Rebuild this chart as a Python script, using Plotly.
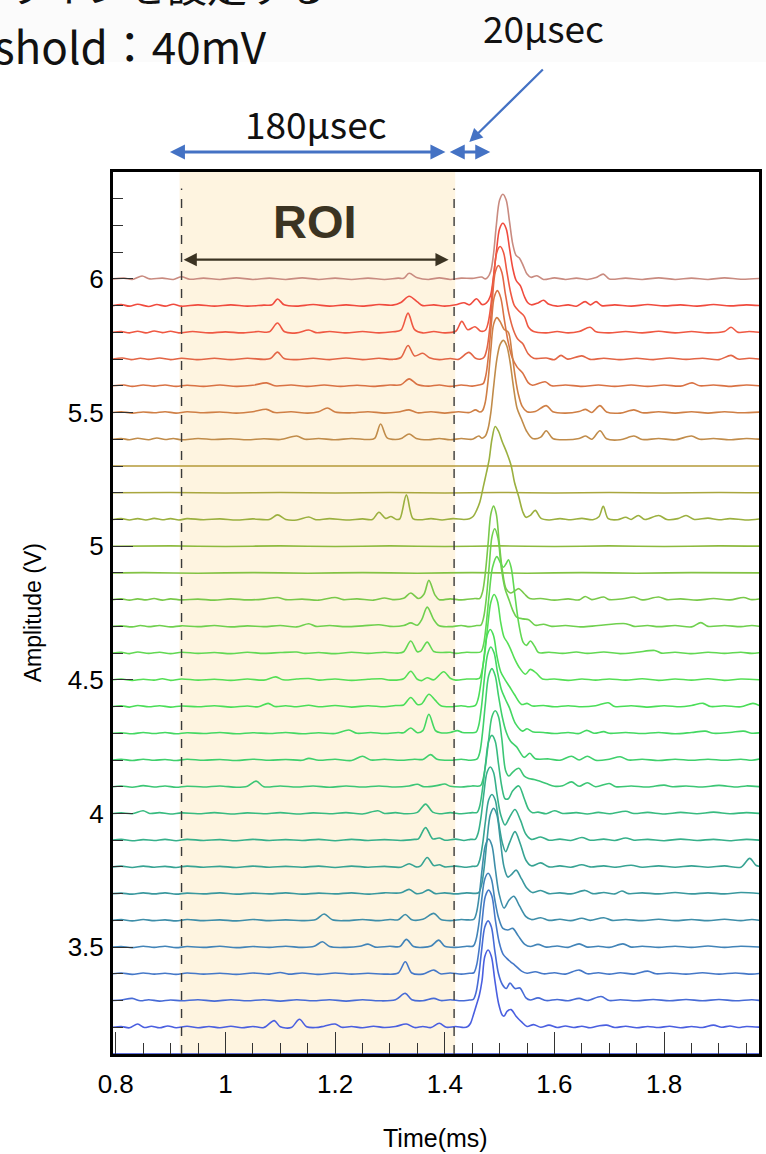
import plotly.graph_objects as go

# ---------------- data (time in ms, deviation in mV from each trace's baseline) ----------------
BASELINES_V = [6.0, 5.9, 5.8, 5.7, 5.6, 5.5, 5.4, 5.3, 5.2, 5.1, 5.0, 4.9, 4.8, 4.7, 4.6,
               4.5, 4.4, 4.3, 4.2, 4.1, 4.0, 3.9, 3.8, 3.7, 3.6, 3.5, 3.4, 3.3, 3.2, 3.1]

COLORS = ["#c98b80", "#f04b3e", "#ef5842", "#e36545", "#d97244", "#cf7f45", "#c18c4a",
          "#b49a38", "#a9a63e", "#9bb03f", "#8dba3e", "#83c244", "#79c94a", "#6fd04e",
          "#62d853", "#55df55", "#4ade58", "#44d862", "#3fd06c", "#3cc675", "#38bb80",
          "#36b08a", "#37a393", "#3a989e", "#3e8ea9", "#4284b8", "#4578c8", "#476bd6",
          "#4a5fe0", "#3044d0"]

W600 = [(0.795,0),(0.815,3),(0.83,-2),(0.848,11),(0.862,0),(0.885,3),(0.905,-2),(0.92,8),(0.935,-1),(0.96,3),(0.99,-2),(1.02,4),(1.05,-2),(1.08,3),(1.11,-2),(1.14,4),(1.17,-2),(1.20,3),(1.23,-2),(1.26,3),(1.29,-2),(1.315,3),(1.325,2),(1.335,21),(1.35,4),(1.37,-2),(1.39,4),(1.41,-2),(1.43,3),(1.45,2),(1.467,7),(1.474,0),
        (1.478,5),(1.484,30),(1.489,95),(1.494,200),(1.50,295),(1.506,317),(1.512,295),(1.518,215),(1.524,130),(1.53,88),(1.536,78),(1.543,50),(1.55,18),(1.557,6),
        (1.568,12),(1.58,-2),(1.60,4),(1.62,-2),(1.64,3),(1.66,-2),(1.676,5),(1.689,18),(1.70,0),(1.73,3),(1.76,-2),(1.79,4),(1.82,-2),(1.85,3),(1.88,-2),(1.91,4),(1.94,-1),(1.975,2)]
W590 = [(0.795,0),(0.81,4),(0.825,-2),(0.84,5),(0.86,-3),(0.875,4),(0.89,-2),(0.905,5),(0.92,-2),(0.95,3),(0.98,-2),(1.01,3),(1.04,-2),(1.07,2),(1.085,3),(1.095,25),(1.107,3),(1.13,-2),(1.16,4),(1.19,-2),(1.22,3),(1.25,-2),(1.28,4),(1.305,2),(1.32,12),(1.335,35),(1.35,14),(1.36,0),(1.38,3),(1.40,-2),(1.42,3),(1.435,11),(1.445,3),(1.458,26),(1.468,4),
        (1.476,10),(1.483,35),(1.488,95),(1.494,200),(1.50,288),(1.506,308),(1.512,288),(1.518,215),(1.524,140),(1.53,95),(1.538,74),(1.545,35),(1.551,12),(1.558,3),
        (1.57,10),(1.58,20),(1.59,5),(1.605,-2),(1.625,3),(1.64,-2),(1.656,15),(1.666,3),(1.676,15),(1.686,0),(1.71,3),(1.74,-2),(1.77,4),(1.80,-1),(1.83,3),(1.86,-2),(1.89,4),(1.92,-1),(1.95,3),(1.975,0)]
W580 = [(0.795,0),(0.81,3),(0.825,-2),(0.84,4),(0.855,-2),(0.87,5),(0.885,-1),(0.90,4),(0.915,-2),(0.94,3),(0.97,-2),(1.00,2),(1.03,-2),(1.06,3),(1.08,2),(1.095,35),(1.108,2),(1.13,-2),(1.152,9),(1.165,-1),(1.19,3),(1.22,-2),(1.25,3),(1.28,-2),(1.305,2),(1.32,8),(1.333,72),(1.345,10),(1.36,-2),(1.38,3),(1.40,-2),(1.42,4),(1.431,41),(1.442,10),(1.455,21),(1.466,4),
        (1.474,8),(1.479,35),(1.484,100),(1.489,205),(1.495,300),(1.501,321),(1.507,300),(1.513,230),(1.52,150),(1.527,100),(1.535,80),(1.545,60),(1.553,18),(1.562,3),
        (1.585,-2),(1.605,3),(1.625,-2),(1.645,3),(1.665,19),(1.676,2),(1.70,-2),(1.73,3),(1.76,-2),(1.79,4),(1.82,-2),(1.85,3),(1.88,-2),(1.91,3),(1.922,19),(1.935,0),(1.955,3),(1.975,0)]
W570 = [(0.795,0),(0.812,4),(0.828,-2),(0.845,3),(0.86,-1),(0.88,4),(0.90,-2),(0.92,3),(0.95,-2),(0.98,3),(1.01,-2),(1.04,3),(1.07,-1),(1.082,2),(1.095,26),(1.107,2),(1.13,-2),(1.16,3),(1.19,-2),(1.22,4),(1.25,-2),(1.28,3),(1.305,-1),(1.32,6),(1.333,51),(1.345,12),(1.36,22),(1.372,5),(1.39,-2),(1.41,2),(1.425,-1),(1.444,25),(1.456,3),(1.466,0),
        (1.472,8),(1.477,40),(1.482,115),(1.487,230),(1.492,325),(1.498,350),(1.504,325),(1.51,250),(1.517,170),(1.525,110),(1.533,75),(1.542,58),(1.552,20),(1.562,3),
        (1.585,4),(1.60,-2),(1.612,14),(1.624,0),(1.65,12),(1.665,-1),(1.69,3),(1.72,-2),(1.75,3),(1.78,-2),(1.81,4),(1.84,-1),(1.87,3),(1.90,-2),(1.922,14),(1.935,0),(1.955,3),(1.975,0)]
W560 = [(0.795,0),(0.815,3),(0.83,-2),(0.85,3),(0.87,-1),(0.89,3),(0.91,-2),(0.93,2),(0.96,-2),(0.99,3),(1.02,-2),(1.05,2),(1.075,11),(1.09,0),(1.12,3),(1.15,-2),(1.18,3),(1.21,-2),(1.24,2),(1.27,-2),(1.30,3),(1.32,4),(1.335,26),(1.35,5),(1.37,-1),(1.39,3),(1.41,-2),(1.43,3),(1.45,-1),(1.462,3),
        (1.47,8),(1.475,40),(1.48,120),(1.485,235),(1.49,330),(1.496,356),(1.502,330),(1.508,255),(1.515,170),(1.523,105),(1.532,70),(1.542,48),(1.552,12),(1.56,2),
        (1.583,15),(1.595,0),(1.62,3),(1.65,-2),(1.68,3),(1.71,-2),(1.74,3),(1.77,-2),(1.80,3),(1.83,-1),(1.851,11),(1.865,0),(1.89,3),(1.92,-2),(1.95,3),(1.975,0)]
W550 = [(0.795,0),(0.81,3),(0.83,-2),(0.85,2),(0.87,-1),(0.89,3),(0.91,-2),(0.93,3),(0.96,-1),(0.99,2),(1.02,-2),(1.05,3),(1.075,12),(1.09,0),(1.12,3),(1.15,-2),(1.17,3),(1.186,17),(1.20,2),(1.23,-1),(1.26,3),(1.29,-2),(1.315,2),(1.335,10),(1.35,-1),(1.375,3),(1.40,-2),(1.425,3),(1.445,0),(1.456,10),(1.464,2),
        (1.469,8),(1.474,40),(1.479,120),(1.484,235),(1.489,330),(1.495,355),(1.501,340),(1.508,312),(1.516,300),(1.522,230),(1.528,140),(1.534,70),(1.541,24),(1.55,3),
        (1.565,4),(1.585,26),(1.597,3),(1.62,-2),(1.645,4),(1.657,12),(1.668,0),(1.683,26),(1.695,2),(1.72,-2),(1.745,10),(1.76,-1),(1.79,3),(1.82,-2),(1.85,3),(1.88,-2),(1.91,3),(1.94,-1),(1.975,2)]
W540 = [(0.795,0),(0.81,3),(0.825,-2),(0.84,4),(0.86,-2),(0.875,5),(0.89,-1),(0.905,3),(0.92,-2),(0.95,3),(0.98,-1),(1.01,2),(1.04,-2),(1.07,2),(1.10,-1),(1.13,12),(1.145,0),(1.17,3),(1.20,-2),(1.23,3),(1.26,-1),(1.272,3),(1.283,57),(1.295,5),(1.31,-1),(1.322,4),(1.335,20),(1.348,3),(1.37,-2),(1.39,3),(1.41,-2),(1.43,3),(1.45,0),(1.462,12),(1.468,4),
        (1.474,12),(1.479,40),(1.484,100),(1.489,195),(1.495,300),(1.501,355),(1.507,370),(1.513,350),(1.519,290),(1.525,200),(1.532,115),(1.54,75),(1.549,31),(1.56,3),
        (1.575,8),(1.585,32),(1.597,3),(1.62,-2),(1.645,3),(1.657,12),(1.668,0),(1.683,32),(1.695,2),(1.72,-2),(1.745,12),(1.76,-1),(1.79,3),(1.82,-2),(1.85,12),(1.865,0),(1.89,3),(1.92,-2),(1.95,3),(1.975,0)]
W530 = [(0.795,0),(1.975,0)]
W520 = [(0.795,0),(0.90,1),(1.00,-1),(1.10,1),(1.20,-1),(1.30,1),(1.40,-1),(1.50,1),(1.60,-1),(1.70,1),(1.80,-1),(1.90,1),(1.975,0)]
W510 = [(0.795,0),(0.81,3),(0.825,-2),(0.84,3),(0.855,-2),(0.87,4),(0.885,-1),(0.90,3),(0.915,-2),(0.93,3),(0.96,-1),(0.99,2),(1.02,-2),(1.05,2),(1.08,0),(1.095,17),(1.11,0),(1.13,-2),(1.152,9),(1.165,-1),(1.19,3),(1.22,-2),(1.25,2),(1.268,0),(1.28,27),(1.292,4),(1.302,11),(1.312,0),(1.318,2),(1.33,92),(1.342,3),(1.355,-1),(1.375,3),(1.395,-2),(1.415,3),(1.435,0),
        (1.445,3),(1.452,12),(1.458,34),(1.464,65),(1.47,120),(1.476,175),(1.481,225),(1.486,300),(1.492,348),(1.498,330),(1.505,290),(1.513,250),(1.521,202),(1.527,140),(1.535,84),(1.542,30),(1.548,8),
        (1.556,15),(1.565,34),(1.575,5),(1.59,-2),(1.61,3),(1.63,-1),(1.65,4),(1.67,-1),(1.681,10),(1.689,49),(1.698,3),(1.715,-1),(1.73,8),(1.74,0),(1.753,15),(1.765,0),(1.79,15),(1.805,0),(1.825,3),(1.84,15),(1.855,0),(1.88,5),(1.90,-1),(1.92,3),(1.95,-2),(1.975,2)]
W500 = [(0.795,0),(0.90,1),(1.00,-1),(1.10,1),(1.20,-1),(1.30,1),(1.40,-1),(1.50,1),(1.60,-1),(1.70,1),(1.80,-1),(1.90,1),(1.975,0)]
W490 = [(0.795,0),(0.85,1),(0.95,-1),(1.05,1),(1.15,-1),(1.25,1),(1.35,-1),(1.45,1),(1.55,-1),(1.65,1),(1.75,-1),(1.85,1),(1.975,0)]
W480 = [(0.795,0),(0.81,3),(0.825,-2),(0.84,3),(0.855,-1),(0.87,4),(0.885,-2),(0.90,3),(0.92,-1),(0.95,2),(0.98,-2),(1.01,3),(1.04,-1),(1.07,2),(1.095,8),(1.11,0),(1.14,2),(1.17,-2),(1.20,8),(1.215,0),(1.24,3),(1.27,-2),(1.29,6),(1.305,0),(1.325,5),(1.338,25),(1.352,4),(1.362,20),(1.371,72),(1.382,18),(1.39,0),(1.41,3),(1.43,-1),(1.455,4),
        (1.464,5),(1.469,30),(1.474,100),(1.479,210),(1.484,320),(1.489,350),(1.494,320),(1.499,220),(1.505,110),(1.512,40),(1.52,25),(1.527,32),(1.535,41),(1.545,22),(1.555,4),
        (1.575,4),(1.60,-2),(1.625,3),(1.645,-1),(1.656,12),(1.668,0),(1.69,10),(1.70,0),(1.725,3),(1.745,10),(1.76,-1),(1.79,10),(1.805,0),(1.83,3),(1.86,-2),(1.89,4),(1.92,-1),(1.945,8),(1.96,0),(1.975,3)]
W470 = [(0.795,0),(0.81,2),(0.83,-2),(0.845,3),(0.86,-1),(0.88,3),(0.90,-2),(0.92,2),(0.95,-1),(0.98,3),(1.01,-2),(1.04,2),(1.07,-1),(1.10,3),(1.13,-2),(1.152,10),(1.165,0),(1.19,3),(1.22,-1),(1.25,2),(1.28,6),(1.30,0),(1.325,3),(1.338,13),(1.35,4),(1.358,25),(1.368,72),(1.38,25),(1.39,2),(1.41,-1),(1.43,3),(1.445,-1),(1.458,3),
        (1.466,5),(1.471,35),(1.476,110),(1.481,225),(1.486,335),(1.491,365),(1.497,330),(1.503,220),(1.51,140),(1.517,100),(1.524,60),(1.531,35),(1.543,28),(1.553,25),(1.565,4),
        (1.58,8),(1.595,0),(1.62,3),(1.65,-2),(1.68,3),(1.73,10),(1.745,0),(1.77,3),(1.79,-1),(1.82,3),(1.85,-2),(1.867,14),(1.88,0),(1.91,3),(1.94,-1),(1.96,3),(1.975,0)]
W460 = [(0.795,0),(0.81,3),(0.825,-2),(0.84,4),(0.86,-1),(0.88,3),(0.90,-2),(0.92,3),(0.95,-1),(0.98,2),(1.01,-2),(1.04,3),(1.07,-1),(1.10,2),(1.13,4),(1.145,-1),(1.17,2),(1.20,-2),(1.23,3),(1.26,-1),(1.29,3),(1.315,0),(1.325,5),(1.338,45),(1.35,5),(1.356,8),(1.368,41),(1.38,6),(1.395,2),(1.41,3),(1.42,-1),(1.44,3),(1.455,2),
        (1.466,5),(1.471,35),(1.476,115),(1.481,220),(1.487,320),(1.495,361),(1.501,340),(1.507,321),(1.512,335),(1.516,349),(1.521,320),(1.527,230),(1.535,109),(1.543,40),(1.549,29),(1.556,45),(1.564,25),(1.571,2),
        (1.59,3),(1.615,-1),(1.64,4),(1.66,-1),(1.69,4),(1.72,-2),(1.75,3),(1.783,10),(1.795,0),(1.82,3),(1.85,-2),(1.88,3),(1.91,-1),(1.94,3),(1.96,-1),(1.975,2)]
W450 = [(0.795,0),(0.81,3),(0.83,-2),(0.85,2),(0.87,-1),(0.885,4),(0.90,-2),(0.92,3),(0.95,-1),(0.98,2),(1.01,-2),(1.04,3),(1.07,-1),(1.092,11),(1.105,0),(1.13,3),(1.152,5),(1.17,-1),(1.20,3),(1.23,-2),(1.26,2),(1.285,4),(1.30,-1),(1.325,4),(1.338,32),(1.35,2),(1.358,-3),(1.368,8),(1.38,0),(1.398,30),(1.41,6),(1.42,-1),(1.44,3),(1.452,3),
        (1.463,5),(1.468,35),(1.473,100),(1.478,195),(1.484,290),(1.49,319),(1.496,295),(1.502,215),(1.508,160),(1.514,140),(1.52,115),(1.527,80),(1.535,49),(1.547,21),(1.556,39),(1.567,25),(1.578,3),
        (1.60,3),(1.625,-2),(1.65,3),(1.675,-1),(1.70,3),(1.73,-1),(1.76,4),(1.79,-2),(1.82,3),(1.85,-1),(1.88,4),(1.91,-2),(1.94,3),(1.975,0)]
W440 = [(0.795,0),(0.81,3),(0.825,-2),(0.84,4),(0.86,-1),(0.88,3),(0.90,-2),(0.92,2),(0.95,-1),(0.98,3),(1.01,-2),(1.04,2),(1.06,-1),(1.078,12),(1.09,0),(1.11,3),(1.13,-1),(1.152,5),(1.17,-1),(1.20,4),(1.23,-2),(1.26,3),(1.29,-1),(1.31,4),(1.325,6),(1.338,34),(1.35,8),(1.358,10),(1.371,46),(1.382,25),(1.393,3),(1.41,-1),(1.43,3),(1.445,-1),
        (1.456,4),(1.461,30),(1.466,90),(1.471,175),(1.477,265),(1.483,288),(1.489,265),(1.495,190),(1.502,130),(1.51,100),(1.518,75),(1.527,45),(1.54,8),(1.55,12),(1.56,2),
        (1.58,4),(1.60,-1),(1.625,3),(1.65,-1),(1.675,3),(1.698,14),(1.71,0),(1.74,3),(1.77,-2),(1.80,3),(1.83,-1),(1.85,4),(1.871,12),(1.885,0),(1.91,3),(1.94,-1),(1.962,12),(1.975,2)]
W430 = [(0.795,0),(0.81,2),(0.83,-2),(0.85,3),(0.87,-1),(0.89,3),(0.91,-2),(0.93,2),(0.96,-1),(0.99,3),(1.02,-2),(1.05,2),(1.08,-1),(1.11,3),(1.14,-2),(1.17,2),(1.20,-1),(1.225,12),(1.24,0),(1.265,3),(1.29,-1),(1.315,3),(1.325,2),(1.338,20),(1.35,2),(1.36,10),(1.371,71),(1.383,10),(1.392,2),(1.41,3),(1.423,10),(1.432,3),(1.447,2),
        (1.457,4),(1.462,30),(1.467,100),(1.472,200),(1.478,295),(1.484,323),(1.49,300),(1.496,230),(1.503,165),(1.51,130),(1.518,95),(1.529,36),(1.542,8),(1.55,17),(1.56,6),
        (1.58,3),(1.60,-1),(1.625,3),(1.645,-1),(1.659,11),(1.672,0),(1.69,6),(1.70,0),(1.73,3),(1.76,-1),(1.79,3),(1.82,-2),(1.85,3),(1.875,8),(1.89,0),(1.92,3),(1.945,8),(1.96,0),(1.975,2)]
W420 = [(0.795,0),(0.81,3),(0.83,-2),(0.85,3),(0.87,-1),(0.89,2),(0.91,-2),(0.93,3),(0.96,-1),(0.99,2),(1.02,-2),(1.05,3),(1.08,-1),(1.11,2),(1.14,-1),(1.152,6),(1.17,-1),(1.20,3),(1.23,-2),(1.25,14),(1.265,0),(1.29,3),(1.32,-1),(1.345,3),(1.36,2),(1.374,20),(1.386,3),(1.41,-1),(1.43,3),(1.447,-1),
        (1.459,4),(1.464,30),(1.469,105),(1.474,210),(1.48,315),(1.486,342),(1.492,315),(1.498,240),(1.505,160),(1.512,105),(1.52,70),(1.531,49),(1.545,10),(1.555,25),(1.565,5),
        (1.59,4),(1.61,-1),(1.631,14),(1.645,0),(1.66,14),(1.675,-1),(1.70,3),(1.72,12),(1.735,0),(1.76,3),(1.79,-2),(1.82,3),(1.85,-1),(1.88,3),(1.91,-1),(1.94,3),(1.96,-1),(1.975,4)]
W410 = [(0.795,0),(0.81,3),(0.83,-2),(0.85,4),(0.87,-1),(0.89,3),(0.91,-2),(0.93,2),(0.96,-1),(0.99,3),(1.02,-2),(1.04,2),(1.056,21),(1.07,0),(1.10,3),(1.13,-1),(1.16,3),(1.19,-2),(1.22,3),(1.25,-1),(1.28,3),(1.31,-1),(1.335,3),(1.35,9),(1.362,0),(1.385,4),(1.40,10),(1.41,2),(1.43,-1),(1.45,3),
        (1.465,4),(1.47,30),(1.475,90),(1.48,175),(1.486,262),(1.492,284),(1.498,262),(1.504,180),(1.511,60),(1.517,40),(1.524,55),(1.535,69),(1.545,40),(1.553,31),(1.563,27),(1.571,22),(1.585,12),(1.60,2),
        (1.615,4),(1.631,18),(1.645,2),(1.66,15),(1.675,0),(1.70,12),(1.712,0),(1.74,3),(1.77,-1),(1.80,6),(1.815,0),(1.84,3),(1.87,-1),(1.90,5),(1.93,-1),(1.95,3),(1.975,0)]
W400 = [(0.795,0),(0.81,2),(0.83,-1),(0.85,10),(0.862,0),(0.88,3),(0.90,-2),(0.92,2),(0.95,-1),(0.98,3),(1.01,-2),(1.04,2),(1.07,-1),(1.10,3),(1.13,-2),(1.16,2),(1.19,-1),(1.22,3),(1.25,-2),(1.278,10),(1.29,0),(1.31,3),(1.33,-1),(1.35,4),(1.365,35),(1.378,5),(1.39,-1),(1.41,3),(1.43,-1),(1.45,3),
        (1.459,4),(1.464,30),(1.469,95),(1.474,180),(1.48,270),(1.486,292),(1.492,270),(1.498,185),(1.504,100),(1.51,55),(1.516,55),(1.524,85),(1.535,103),(1.545,55),(1.553,15),(1.56,3),
        (1.57,5),(1.585,-1),(1.60,10),(1.615,0),(1.64,3),(1.66,-2),(1.68,4),(1.70,-1),(1.73,8),(1.745,0),(1.77,4),(1.80,-2),(1.83,4),(1.86,-1),(1.89,5),(1.92,-1),(1.95,3),(1.975,0)]
W390 = [(0.795,0),(0.81,3),(0.83,-2),(0.85,2),(0.87,-1),(0.89,3),(0.91,-2),(0.93,3),(0.96,-1),(0.99,2),(1.02,-2),(1.05,3),(1.08,-1),(1.11,2),(1.14,-1),(1.17,3),(1.20,-2),(1.23,3),(1.26,-1),(1.29,2),(1.32,-1),(1.345,3),(1.352,5),(1.365,47),(1.378,5),(1.39,8),(1.40,0),(1.42,4),(1.435,-1),(1.447,3),
        (1.456,4),(1.461,28),(1.466,85),(1.471,170),(1.477,253),(1.483,274),(1.489,253),(1.495,175),(1.502,95),(1.51,57),(1.518,85),(1.528,115),(1.538,75),(1.548,22),(1.558,3),
        (1.575,12),(1.59,0),(1.61,4),(1.63,-1),(1.65,10),(1.665,0),(1.69,4),(1.71,-1),(1.73,8),(1.745,0),(1.77,3),(1.80,-2),(1.83,4),(1.86,-1),(1.89,3),(1.92,-2),(1.95,3),(1.975,0)]
W380 = [(0.795,0),(0.81,3),(0.83,-2),(0.85,3),(0.87,-1),(0.89,2),(0.91,-2),(0.93,3),(0.96,-1),(0.99,2),(1.02,-2),(1.05,3),(1.08,-1),(1.11,2),(1.14,-1),(1.17,3),(1.20,-2),(1.23,3),(1.26,-1),(1.29,2),(1.32,-1),(1.335,12),(1.348,0),(1.356,4),(1.368,35),(1.38,5),(1.39,8),(1.40,0),(1.42,3),(1.44,-1),(1.45,2),
        (1.459,4),(1.464,28),(1.469,85),(1.474,168),(1.48,250),(1.486,271),(1.492,250),(1.498,170),(1.505,90),(1.511,57),(1.518,90),(1.528,132),(1.538,85),(1.548,25),(1.558,4),
        (1.575,15),(1.59,0),(1.61,4),(1.63,-1),(1.65,8),(1.665,0),(1.69,4),(1.71,-1),(1.74,6),(1.76,-1),(1.79,4),(1.82,-1),(1.85,4),(1.88,-1),(1.91,4),(1.94,-1),(1.956,32),(1.968,5),(1.975,2)]
W370 = [(0.795,0),(0.81,2),(0.83,-2),(0.85,3),(0.87,-1),(0.89,3),(0.91,-2),(0.93,2),(0.96,-1),(0.99,3),(1.02,-2),(1.05,2),(1.08,-1),(1.11,3),(1.14,-2),(1.17,2),(1.20,-1),(1.23,3),(1.26,-2),(1.29,3),(1.32,3),(1.335,16),(1.348,0),(1.358,2),(1.37,14),(1.383,0),(1.40,3),(1.42,-1),(1.44,3),(1.455,1),
        (1.462,4),(1.467,32),(1.472,100),(1.477,200),(1.483,295),(1.489,319),(1.495,295),(1.501,205),(1.508,100),(1.515,62),(1.522,72),(1.53,88),(1.54,55),(1.55,20),(1.56,4),
        (1.575,12),(1.59,0),(1.61,3),(1.63,-1),(1.656,12),(1.67,0),(1.69,4),(1.71,-1),(1.723,10),(1.735,0),(1.76,3),(1.79,-1),(1.82,4),(1.85,-1),(1.88,3),(1.91,-1),(1.94,4),(1.975,0)]
W360 = [(0.795,0),(0.81,3),(0.83,-2),(0.85,3),(0.87,-1),(0.89,2),(0.91,-2),(0.93,3),(0.96,-1),(0.99,2),(1.02,-2),(1.05,3),(1.08,-1),(1.11,2),(1.14,-1),(1.165,3),(1.18,24),(1.195,2),(1.22,-1),(1.25,3),(1.28,-1),(1.30,3),(1.315,2),(1.328,22),(1.34,2),(1.36,4),(1.38,26),(1.393,3),(1.41,-1),(1.43,3),(1.44,2),
        (1.453,4),(1.458,30),(1.463,95),(1.468,190),(1.474,280),(1.48,304),(1.486,280),(1.492,195),(1.499,100),(1.508,46),(1.517,75),(1.526,90),(1.536,55),(1.548,14),(1.558,3),
        (1.575,10),(1.59,0),(1.61,4),(1.63,-1),(1.65,8),(1.665,0),(1.69,10),(1.705,0),(1.73,3),(1.76,-1),(1.79,4),(1.82,-1),(1.85,3),(1.88,-1),(1.91,4),(1.94,-1),(1.96,3),(1.975,0)]
W350 = [(0.795,0),(0.81,2),(0.83,-2),(0.85,3),(0.87,-1),(0.89,3),(0.91,-2),(0.93,2),(0.96,-1),(0.99,3),(1.02,-2),(1.05,2),(1.08,-1),(1.11,3),(1.14,-1),(1.162,3),(1.177,20),(1.19,2),(1.22,-1),(1.245,3),(1.26,11),(1.273,0),(1.30,3),(1.318,2),(1.33,29),(1.343,2),(1.36,-1),(1.375,4),(1.389,26),(1.40,3),(1.42,-1),(1.44,3),
        (1.452,4),(1.457,28),(1.462,85),(1.467,172),(1.473,255),(1.479,276),(1.485,255),(1.491,180),(1.498,110),(1.506,70),(1.515,64),(1.524,70),(1.534,42),(1.546,10),(1.556,2),
        (1.57,10),(1.585,0),(1.605,4),(1.625,-1),(1.645,12),(1.66,0),(1.68,3),(1.70,-1),(1.725,12),(1.74,0),(1.76,3),(1.79,-1),(1.82,3),(1.85,-1),(1.88,4),(1.91,-1),(1.94,3),(1.975,0)]
W340 = [(0.795,0),(0.81,3),(0.83,-2),(0.85,3),(0.87,-1),(0.89,2),(0.91,-2),(0.93,3),(0.96,-1),(0.99,2),(1.02,-2),(1.05,3),(1.08,-1),(1.10,5),(1.115,-1),(1.14,3),(1.17,-2),(1.20,3),(1.23,-1),(1.26,2),(1.29,-1),(1.315,3),(1.328,45),(1.34,3),(1.36,-1),(1.38,14),(1.392,0),(1.41,3),(1.43,-1),(1.445,2),
        (1.453,4),(1.458,32),(1.463,98),(1.468,195),(1.474,290),(1.48,313),(1.486,290),(1.492,205),(1.499,120),(1.506,75),(1.513,58),(1.52,45),(1.528,32),(1.54,10),(1.55,2),
        (1.565,8),(1.58,0),(1.60,4),(1.62,-1),(1.645,14),(1.66,0),(1.68,4),(1.70,-1),(1.72,4),(1.745,-1),(1.77,10),(1.785,0),(1.81,3),(1.84,-1),(1.87,4),(1.90,-1),(1.93,3),(1.96,-1),(1.975,2)]
W330 = [(0.795,0),(0.81,2),(0.83,8),(0.845,-1),(0.86,3),(0.88,-2),(0.90,2),(0.92,-1),(0.95,3),(0.98,-2),(1.01,3),(1.04,-1),(1.07,3),(1.10,-2),(1.13,3),(1.16,-1),(1.19,3),(1.22,-2),(1.25,3),(1.28,-1),(1.31,3),(1.328,27),(1.34,3),(1.36,-1),(1.38,8),(1.393,0),(1.41,3),(1.43,-1),(1.445,2),
        (1.452,4),(1.457,30),(1.462,92),(1.467,185),(1.473,275),(1.479,298),(1.485,275),(1.491,190),(1.498,100),(1.505,60),(1.512,45),(1.519,65),(1.528,45),(1.537,47),(1.548,10),(1.556,2),
        (1.57,10),(1.585,0),(1.605,4),(1.625,-1),(1.645,8),(1.66,0),(1.685,15),(1.70,0),(1.72,3),(1.75,-1),(1.78,4),(1.81,-1),(1.84,4),(1.87,-1),(1.90,4),(1.93,-1),(1.96,3),(1.975,0)]
W320 = [(0.795,0),(0.81,3),(0.825,-2),(0.84,12),(0.852,-1),(0.865,4),(0.88,-2),(0.895,5),(0.91,-2),(0.93,4),(0.95,-2),(0.97,3),(0.99,-2),(1.01,4),(1.03,-2),(1.05,3),(1.07,-1),(1.089,25),(1.10,2),(1.12,-1),(1.135,30),(1.148,2),(1.165,-1),(1.18,4),(1.20,12),(1.212,0),(1.23,3),(1.25,-2),(1.27,4),(1.29,-1),(1.31,3),(1.33,12),(1.345,-1),(1.36,3),(1.375,-1),(1.39,15),(1.403,0),(1.42,3),(1.435,-1),
        (1.442,3),(1.447,15),(1.452,45),(1.458,85),(1.463,120),(1.468,175),(1.473,265),(1.479,289),(1.485,265),(1.491,180),(1.498,90),(1.505,45),(1.508,42),(1.514,60),(1.521,66),(1.53,41),(1.54,20),(1.55,3),
        (1.562,10),(1.575,0),(1.59,8),(1.605,-1),(1.62,5),(1.635,-1),(1.65,4),(1.665,-2),(1.68,5),(1.695,8),(1.71,-1),(1.73,4),(1.75,-2),(1.77,3),(1.79,-1),(1.81,4),(1.83,-2),(1.85,3),(1.87,-1),(1.89,8),(1.905,0),(1.92,5),(1.935,-1),(1.95,3),(1.975,0)]
W310 = [(0.795,0),(1.975,0)]

WAVES = [W600, W590, W580, W570, W560, W550, W540, W530, W520, W510, W500, W490, W480, W470,
         W460, W450, W440, W430, W420, W410, W400, W390, W380, W370, W360, W350, W340, W330,
         W320, W310]

X_TICKS = [0.8, 1.0, 1.2, 1.4, 1.6, 1.8]
X_TICKTEXT = ["0.8", "1", "1.2", "1.4", "1.6", "1.8"]
Y_TICKS = [3.5, 4.0, 4.5, 5.0, 5.5, 6.0]
Y_TICKTEXT = ["3.5", "4", "4.5", "5", "5.5", "6"]
ROI_START_MS, ROI_END_MS = 0.92, 1.417

# ---------------- figure ----------------
FONT = "Liberation Sans, Arial, sans-serif"
JFONT = "Noto Sans CJK JP, Noto Sans, sans-serif"
BLUE = "#4472c4"

fig = go.Figure()

for base, col, wave in zip(BASELINES_V, COLORS, WAVES):
    fig.add_trace(go.Scatter(
        x=[p[0] for p in wave],
        y=[base + p[1] / 1000.0 for p in wave],
        mode="lines",
        line=dict(color=col, width=1.6, shape="spline", smoothing=0.9),
        hoverinfo="skip", showlegend=False))

X_RANGE = [0.795, 1.973]
Y_RANGE = [3.1, 6.4]


def px2paper_x(px):
    return (px - 113) / 649.0


def px2paper_y(py):
    return (1054 - py) / 882.0


shapes = [
    dict(type="rect", xref="paper", yref="paper", x0=-0.2, x1=1.1, y0=px2paper_y(62), y1=1.25,
         fillcolor="#fbfbfb", line=dict(width=0), layer="below"),
    dict(type="rect", xref="x", yref="paper", x0=0.9164, x1=1.419, y0=0, y1=1,
         fillcolor="#fef4e0", line=dict(width=0), layer="below"),
    dict(type="line", xref="x", yref="y", x0=ROI_START_MS, x1=ROI_START_MS, y0=3.1, y1=6.338,
         line=dict(color="#3a3a3a", width=1.4, dash="dash")),
    dict(type="line", xref="x", yref="y", x0=ROI_END_MS, x1=ROI_END_MS, y0=3.1, y1=6.338,
         line=dict(color="#3a3a3a", width=1.4, dash="dash")),
]

annotations = [
    dict(text="ラインを設定する", x=px2paper_x(330), y=px2paper_y(-15), xref="paper", yref="paper",
         xanchor="right", yanchor="middle", showarrow=False,
         font=dict(family=JFONT, size=40, color="#111111")),
    dict(text="<b>ROI</b>", x=1.1636, y=6.215, xref="x", yref="y", showarrow=False,
         xanchor="center", yanchor="middle", font=dict(family=FONT, size=47, color="#3b3322")),
    dict(text="", x=1.407, y=6.072, ax=0.921, ay=6.072, xref="x", yref="y", axref="x", ayref="y",
         showarrow=True, arrowhead=2, arrowside="end+start", arrowsize=1.1, arrowwidth=2.4,
         arrowcolor="#3b3322"),
    dict(text="180μsec", x=px2paper_x(317), y=px2paper_y(123), xref="paper", yref="paper",
         xanchor="center", yanchor="middle", showarrow=False,
         font=dict(family=JFONT, size=37, color="#111111")),
    dict(text="", x=px2paper_x(447), y=px2paper_y(152), xref="paper", yref="paper",
         ax=-277, ay=0, showarrow=True, arrowhead=2, arrowside="end+start", arrowsize=1.0,
         arrowwidth=3, arrowcolor=BLUE),
    dict(text="", x=px2paper_x(492), y=px2paper_y(152), xref="paper", yref="paper",
         ax=-42, ay=0, showarrow=True, arrowhead=2, arrowside="end+start", arrowsize=1.0,
         arrowwidth=3, arrowcolor=BLUE),
    dict(text="", x=px2paper_x(471), y=px2paper_y(142), xref="paper", yref="paper",
         ax=75, ay=-74, showarrow=True, arrowhead=2, arrowsize=1.2, arrowwidth=2.2,
         arrowcolor=BLUE),
    dict(text="20μsec", x=px2paper_x(545), y=px2paper_y(27), xref="paper", yref="paper",
         xanchor="center", yanchor="middle", showarrow=False,
         font=dict(family=JFONT, size=37, color="#111111")),
    dict(text="shold：40mV", x=px2paper_x(-9), y=px2paper_y(45), xref="paper", yref="paper",
         xanchor="left", yanchor="middle", showarrow=False,
         font=dict(family=JFONT, size=44, color="#111111")),
    dict(text="Amplitude (V)", x=px2paper_x(33), y=0.5, xref="paper", yref="paper",
         xanchor="center", yanchor="middle", textangle=-90, showarrow=False,
         font=dict(family=FONT, size=23, color="#000000")),
    dict(text="Time(ms)", x=px2paper_x(437), y=px2paper_y(1138), xref="paper", yref="paper",
         xanchor="center", yanchor="middle", showarrow=False,
         font=dict(family=FONT, size=25, color="#000000")),
]

fig.update_layout(
    width=766, height=1154,
    margin=dict(l=113, r=4, t=172, b=100),
    paper_bgcolor="white", plot_bgcolor="rgba(0,0,0,0)",
    shapes=shapes, annotations=annotations,
    font=dict(family=FONT, color="#000000"),
    xaxis=dict(range=X_RANGE, tickvals=X_TICKS, ticktext=X_TICKTEXT, ticks="inside",
               ticklen=22, tickwidth=1.3, tickcolor="#333333", showgrid=False, zeroline=False,
               showline=True, linewidth=3, linecolor="#000000", mirror=True,
               tickfont=dict(size=26, family=FONT), ticklabelstandoff=5,
               minor=dict(dtick=0.05, tick0=0.8, ticks="inside", ticklen=11, tickwidth=1.2,
                          tickcolor="#333333", showgrid=False)),
    yaxis=dict(range=Y_RANGE, tickvals=Y_TICKS, ticktext=Y_TICKTEXT, ticks="inside",
               ticklen=20, tickwidth=1.3, tickcolor="#333333", showgrid=False, zeroline=False,
               showline=True, linewidth=3, linecolor="#000000", mirror=True,
               tickfont=dict(size=26, family=FONT), ticklabelstandoff=1,
               minor=dict(dtick=0.1, tick0=3.1, ticks="inside", ticklen=10, tickwidth=1.2,
                          tickcolor="#333333", showgrid=False)),
)

fig.write_html("out.html")
